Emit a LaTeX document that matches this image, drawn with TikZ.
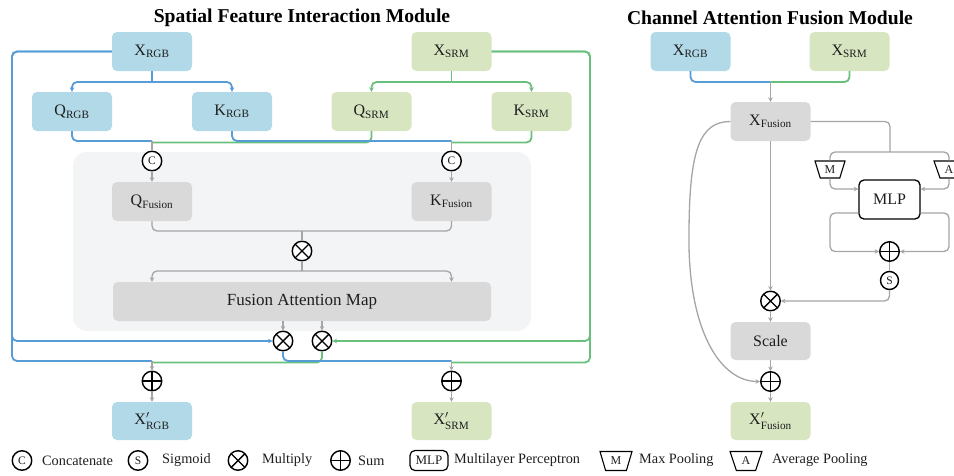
\documentclass[tikz,border=0pt]{standalone}
\usepackage{fontspec}
\setmainfont{Liberation Serif}
\usetikzlibrary{arrows.meta,shapes.geometric,calc}

\definecolor{lnblue}{RGB}{88,156,214}
\definecolor{lngreen}{RGB}{104,192,124}
\definecolor{lngray}{RGB}{165,165,165}
\definecolor{boxblue}{RGB}{177,217,231}
\definecolor{boxgreen}{RGB}{215,229,193}
\definecolor{boxgray}{RGB}{217,217,217}
\definecolor{panelgray}{RGB}{243,244,246}
\definecolor{ink}{RGB}{30,30,30}

\newcommand{\fsz}[1]{\fontsize{#1}{#1}\selectfont}

\begin{document}
\begin{tikzpicture}[x=1pt,y=-1pt,
  box/.style={rectangle,rounded corners=5pt,minimum width=80pt,minimum height=39pt,inner sep=0pt,text=ink,font=\fsz{16}},
  rgbbox/.style={box,fill=boxblue},
  srmbox/.style={box,fill=boxgreen},
  graybox/.style={box,fill=boxgray},
  wire/.style={line width=1.8pt,rounded corners=5pt},
  bw/.style={wire,draw=lnblue},
  gw/.style={wire,draw=lngreen},
  yw/.style={line width=1.3pt,draw=lngray,rounded corners=5pt},
  tip/.style={-{Stealth[length=4.5pt,width=4.5pt]}},
  op/.style={circle,draw=black,line width=1.4pt,fill=white,minimum size=19.5pt,inner sep=0pt},
  mulop/.style={op,path picture={\draw[line width=1.4pt]
     (path picture bounding box.center) +(45:12pt) -- +(225:12pt)
     (path picture bounding box.center) +(135:12pt) -- +(315:12pt);}},
  sumop/.style={op,path picture={\draw[line width=1.4pt]
     (path picture bounding box.center) +(0:12pt) -- +(180:12pt)
     (path picture bounding box.center) +(90:12pt) -- +(270:12pt);}},
  letterop/.style={op,font=\fsz{11.5},text=ink},
  trap/.style={trapezium,draw=black,line width=1.1pt,fill=white,trapezium angle=70,
     shape border rotate=180,trapezium stretches=true,minimum width=30pt,
     minimum height=17pt,inner sep=0pt,text=ink,font=\fsz{12}},
  legend/.style={anchor=west,text=ink,font=\fsz{14.3},inner sep=0pt},
  title/.style={font=\bfseries\fsz{19.6},text=black,inner sep=0pt},
]
\useasboundingbox (0,0) rectangle (954,475);
\clip (0,0) rectangle (954,475);

% ---------- titles ----------
\node[title] (t1) at (302,18) {Spatial Feature Interaction Module};
\node[title] (t2) at (770,18) {Channel Attention Fusion Module};

% ---------- spatial feature interaction module ----------
\node[fill=panelgray,rounded corners=14pt,minimum width=458pt,minimum height=179pt,inner sep=0pt] (panel) at (302,241.5) {};

\node[rgbbox] (xr) at (152,51.5) {$\mathrm{X}_{\mathrm{RGB}}$};
\node[srmbox] (xs) at (451.5,51.5) {$\mathrm{X}_{\mathrm{SRM}}$};
\node[rgbbox] (qr) at (72,111.5) {$\mathrm{Q}_{\mathrm{RGB}}$};
\node[rgbbox] (kr) at (232,111.5) {$\mathrm{K}_{\mathrm{RGB}}$};
\node[srmbox] (qs) at (371.5,111.5) {$\mathrm{Q}_{\mathrm{SRM}}$};
\node[srmbox] (ks) at (531.5,111.5) {$\mathrm{K}_{\mathrm{SRM}}$};

\node[letterop] (cq) at (152,161) {C};
\node[letterop] (ck) at (451.5,161) {C};
\node[graybox] (qf) at (152,201.5) {$\mathrm{Q}_{\mathrm{Fusion}}$};
\node[graybox] (kf) at (451.5,201.5) {$\mathrm{K}_{\mathrm{Fusion}}$};
\node[mulop] (mqk) at (302,251) {};
\node[graybox,minimum width=378pt,font=\fsz{17}] (fam) at (302,301.5) {Fusion Attention Map};
\node[mulop] (m1) at (283,341) {};
\node[mulop] (m2) at (322,341) {};
\node[sumop] (p1) at (152,381) {};
\node[sumop] (p2) at (451.5,381) {};
\node[rgbbox,minimum height=38pt] (xro) at (152,421) {$\mathrm{X}'_{\mathrm{RGB}}$};
\node[srmbox,minimum height=38pt] (xso) at (451.5,421) {$\mathrm{X}'_{\mathrm{SRM}}$};

\coordinate (lcol) at (12,0);
\coordinate (rcol) at (590,0);
\coordinate (sr) at (152,82);
\coordinate (ss) at (451.5,82);
\coordinate (jq) at (152,141);
\coordinate (jk) at (451.5,141);
\coordinate (jqg) at (152,142.5);
\coordinate (jkg) at (451.5,142.5);
\coordinate (jm) at (302,231);
\coordinate (ja) at (302,271);
\coordinate (ol) at (152,361);
\coordinate (or) at (451.5,361);
\coordinate (olg) at (152,362.5);
\coordinate (org) at (451.5,362.5);

% inputs to queries and keys
\draw[bw] (xr.south) -- (sr);
\draw[bw,tip] (sr) -| (qr.north);
\draw[bw,tip] (sr) -| (kr.north);
\draw[gw] (xs.south) -- (ss);
\draw[gw,tip] (ss) -| (qs.north);
\draw[gw,tip] (ss) -| (ks.north);

% concatenation of queries / keys
\draw[gw] (qs.south) |- (jqg);
\draw[gw] (ks.south) |- (jkg);
\draw[bw] (qr.south) |- (jq);
\draw[bw] (kr.south) |- (jk);
\draw[yw] (jq) -- (cq.north);
\draw[yw,tip] (cq.south) -- (qf.north);
\draw[yw] (jk) -- (ck.north);
\draw[yw,tip] (ck.south) -- (kf.north);

% attention map
\draw[yw] (qf.south) |- (jm) -| (kf.south);
\draw[yw] (jm) -- (mqk.north);
\draw[yw] (mqk.south) -- (ja);
\draw[yw,tip] (ja) -| (qf |- fam.north);
\draw[yw,tip] (ja) -| (kf |- fam.north);
\draw[yw,tip] (m1 |- fam.south) -- (m1.north);
\draw[yw,tip] (m2 |- fam.south) -- (m2.north);

% side branches and residual paths
\draw[bw,tip] (xr.west) -| (lcol |- m1.west) -- (m1.west);
\draw[bw] (xr.west) -| (lcol |- ol) -- (ol);
\draw[gw,tip] (xs.east) -| (rcol |- m2.east) -- (m2.east);
\draw[gw] (xs.east) -| (rcol |- org) -- (org);
\draw[gw] (m2.south) |- (olg);
\draw[bw] (m1.south) |- (or);
\draw[yw,tip] (ol) -- (p1.north);
\draw[yw,tip] (or) -- (p2.north);
\draw[yw,tip] (p1.south) -- (xro.north);
\draw[yw,tip] (p2.south) -- (xso.north);

% ---------- channel attention fusion module ----------
\node[rgbbox] (xr2) at (690.5,51.5) {$\mathrm{X}_{\mathrm{RGB}}$};
\node[srmbox] (xs2) at (849.5,51.5) {$\mathrm{X}_{\mathrm{SRM}}$};
\node[graybox] (xf) at (770.5,121.5) {$\mathrm{X}_{\mathrm{Fusion}}$};
\node[trap] (mp) at (830,169.5) {M};
\node[trap] (ap) at (949,169.5) {A};
\node[rectangle,draw=black,line width=1.3pt,rounded corners=5pt,fill=white,minimum width=61pt,
      minimum height=39pt,inner sep=0pt,text=ink,font=\fsz{16}] (mlp) at (889.5,199.5) {MLP};
\node[sumop] (p3) at (889.5,251.5) {};
\node[letterop,minimum size=18pt] (sg) at (889.5,280.5) {S};
\node[mulop] (mx) at (770.5,301) {};
\node[graybox,minimum height=38pt] (sc) at (770.5,341) {Scale};
\node[sumop] (p4) at (770.5,381.5) {};
\node[srmbox,minimum height=38pt] (xfo) at (770.5,421) {$\mathrm{X}'_{\mathrm{Fusion}}$};

\coordinate (fj) at (770.5,82);
\coordinate (pj) at (890,152);

\draw[bw] (xr2.south) |- (fj);
\draw[gw] (xs2.south) |- (fj);
\draw[yw,tip] (fj) -- (xf.north);
\draw[yw,tip] (xf.south) -- (mx.north);
\draw[yw,tip] (mx.south) -- (sc.north);
\draw[yw,tip] (sc.south) -- (p4.north);
\draw[yw,tip] (p4.south) -- (xfo.north);
\draw[yw,tip] (xf.west) .. controls (700,121.5) and (690,150) .. (689,230)
                        .. controls (688,330) and (720,381.5) .. (p4.west);

\draw[yw] (xf.east) -| (pj);
\draw[yw] (pj) -| (mp);
\draw[yw] (pj) -| (ap);
\draw[yw,tip] (mp) |- ([yshift=10.5pt]mlp.west);
\draw[yw,tip] (ap) |- ([yshift=10.5pt]mlp.east);
\draw[yw,tip] ([yshift=-13.5pt]mlp.west) -| (mp |- p3.west) -- (p3.west);
\draw[yw,tip] ([yshift=-13.5pt]mlp.east) -| (ap |- p3.east) -- (p3.east);
\draw[yw] (p3.south) -- (sg.north);
\draw[yw,tip] (sg.south) |- (mx.east);

% ---------- legend ----------
\node[letterop] (lc) at (22,460.5) {C};
\node[legend] (lct) at (42,460.5) {Concatenate};
\node[letterop] (ls) at (138,460.5) {S};
\node[legend] (lst) at (162,460.5) {Sigmoid};
\node[mulop] (lm) at (238,460.5) {};
\node[legend] (lmt) at (262,460.5) {Multiply};
\node[sumop] (lp) at (340.5,460.5) {};
\node[legend] (lpt) at (358,460.5) {Sum};
\node[rectangle,draw=black,line width=1.2pt,rounded corners=5pt,minimum width=38pt,minimum height=20pt,
      inner sep=0pt,text=ink,font=\fsz{13}] (lmlp) at (429,460.5) {MLP};
\node[legend] (lmlpt) at (454,460.5) {Multilayer Perceptron};
\node[trap,minimum width=32pt,minimum height=19pt] (lmp) at (616,461) {M};
\node[legend] (lmpt) at (639,460.5) {Max Pooling};
\node[trap,minimum width=32pt,minimum height=19pt] (lap) at (746,461) {A};
\node[legend] (lapt) at (772,460.5) {Average Pooling};
\end{tikzpicture}
\end{document}
